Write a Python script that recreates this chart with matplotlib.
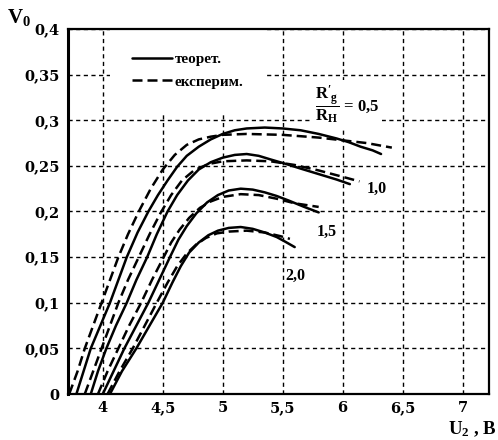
import matplotlib
matplotlib.use("Agg")
import matplotlib.pyplot as plt
from matplotlib.patches import Rectangle

plt.rcParams['mathtext.fontset'] = 'custom'
plt.rcParams['mathtext.rm'] = 'Liberation Serif'
plt.rcParams['mathtext.bf'] = 'Liberation Serif:bold'
plt.rcParams['mathtext.it'] = 'Liberation Serif:italic:bold'

SERIF = ['Liberation Serif', 'DejaVu Serif']
TICK_FONT = ['DejaVu Serif']

# Theoretical curves (solid) for R'g/RH = 0.5, 1.0, 1.5, 2.0
th_05_x = [3.78, 3.84, 3.90, 3.98, 4.06, 4.13, 4.20, 4.29, 4.38, 4.46, 4.54, 4.62, 4.70, 4.80,
           4.90, 5.00, 5.10, 5.20, 5.35, 5.50, 5.65, 5.80, 5.95, 6.05, 6.15, 6.25, 6.32]
th_05_y = [0.0, 0.025, 0.05, 0.075, 0.10, 0.125, 0.15, 0.177, 0.20, 0.218, 0.234, 0.249, 0.261, 0.271,
           0.279, 0.285, 0.289, 0.291, 0.292, 0.291, 0.289, 0.285, 0.280, 0.276, 0.271, 0.267, 0.263]

th_10_x = [3.90, 3.96, 4.03, 4.11, 4.20, 4.28, 4.37, 4.45, 4.54, 4.62, 4.71, 4.80, 4.90, 5.00,
           5.10, 5.20, 5.30, 5.40, 5.53, 5.65, 5.80, 5.95, 6.06]
th_10_y = [0.0, 0.025, 0.05, 0.075, 0.10, 0.125, 0.15, 0.175, 0.20, 0.218, 0.234, 0.246, 0.254, 0.259,
           0.262, 0.263, 0.261, 0.257, 0.252, 0.247, 0.241, 0.235, 0.230]

th_15_x = [4.00, 4.09, 4.18, 4.28, 4.38, 4.47, 4.56, 4.63, 4.70, 4.78, 4.87, 4.96, 5.05, 5.15,
           5.25, 5.35, 5.45, 5.55, 5.68, 5.80]
th_15_y = [0.0, 0.025, 0.05, 0.075, 0.10, 0.125, 0.15, 0.169, 0.184, 0.198, 0.210, 0.218, 0.223, 0.225,
           0.224, 0.221, 0.217, 0.212, 0.205, 0.199]

th_20_x = [4.06, 4.16, 4.28, 4.39, 4.50, 4.58, 4.65, 4.72, 4.80, 4.88, 4.96, 5.05, 5.15, 5.25,
           5.35, 5.45, 5.52, 5.60]
th_20_y = [0.0, 0.025, 0.05, 0.075, 0.10, 0.122, 0.140, 0.155, 0.166, 0.174, 0.179, 0.182, 0.183, 0.181,
           0.177, 0.172, 0.167, 0.161]

# Experimental curves (dashed)
ex_05_x = [3.72, 3.79, 3.85, 3.92, 3.99, 4.06, 4.13, 4.21, 4.30, 4.40, 4.50, 4.60, 4.70, 4.80,
           4.90, 5.00, 5.20, 5.50, 5.80, 6.00, 6.20, 6.41]
ex_05_y = [0.0, 0.025, 0.05, 0.075, 0.10, 0.125, 0.15, 0.175, 0.20, 0.225, 0.246, 0.262, 0.273, 0.279,
           0.282, 0.284, 0.285, 0.284, 0.281, 0.278, 0.275, 0.270]

ex_10_x = [3.85, 3.92, 3.99, 4.06, 4.13, 4.21, 4.30, 4.39, 4.48, 4.57, 4.66, 4.76, 4.88, 5.00,
           5.20, 5.40, 5.60, 5.80, 6.00, 6.14]
ex_10_y = [0.0, 0.025, 0.05, 0.075, 0.10, 0.125, 0.15, 0.175, 0.198, 0.218, 0.234, 0.245, 0.252, 0.255,
           0.256, 0.255, 0.251, 0.245, 0.238, 0.233]

ex_15_x = [3.96, 4.04, 4.13, 4.22, 4.32, 4.41, 4.50, 4.57, 4.64, 4.72, 4.81, 4.90, 5.00, 5.15,
           5.30, 5.45, 5.60, 5.80]
ex_15_y = [0.0, 0.025, 0.05, 0.075, 0.10, 0.125, 0.148, 0.166, 0.180, 0.193, 0.204, 0.211, 0.216, 0.219,
           0.218, 0.214, 0.209, 0.205]

ex_20_x = [4.04, 4.14, 4.25, 4.35, 4.45, 4.54, 4.62, 4.70, 4.78, 4.86, 4.95, 5.05, 5.20, 5.35,
           5.48, 5.56]
ex_20_y = [0.0, 0.025, 0.05, 0.075, 0.10, 0.122, 0.140, 0.154, 0.164, 0.171, 0.176, 0.178, 0.179, 0.177,
           0.173, 0.170]

x_ticks = [4, 4.5, 5, 5.5, 6, 6.5, 7]
x_tick_labels = ['4', '4,5', '5', '5,5', '6', '6,5', '7']
y_ticks = [0, 0.05, 0.1, 0.15, 0.2, 0.25, 0.3, 0.35, 0.4]
y_tick_labels = ['0', '0,05', '0,1', '0,15', '0,2', '0,25', '0,3', '0,35', '0,4']

curve_labels = ['1,0', '1,5', '2,0']
curve_label_pos = [(6.20, 0.225), (5.78, 0.178), (5.52, 0.130)]

fig = plt.figure(figsize=(4.98, 4.40), dpi=100)
ax = fig.add_axes([68 / 498, 46 / 440, 421 / 498, 365 / 440])

ax.set_xlim(3.71, 7.22)
ax.set_ylim(0, 0.4)

solid_kw = dict(color='black', lw=1.8, zorder=3, solid_capstyle='round', solid_joinstyle='round')
dash_kw = dict(color='black', lw=1.8, zorder=3, linestyle=(0, (4, 2)))

th = [(th_05_x, th_05_y), (th_10_x, th_10_y), (th_15_x, th_15_y), (th_20_x, th_20_y)]
ex = [(ex_05_x, ex_05_y), (ex_10_x, ex_10_y), (ex_15_x, ex_15_y), (ex_20_x, ex_20_y)]
for i, (x, y) in enumerate(th):
    ax.plot(x, y, label='теорет.' if i == 0 else None, **solid_kw)
for i, (x, y) in enumerate(ex):
    ax.plot(x, y, label='експерим.' if i == 0 else None, **dash_kw)

ax.set_xticks(x_ticks)
ax.set_xticklabels(x_tick_labels)
ax.set_yticks(y_ticks)
ax.set_yticklabels(y_tick_labels)
ax.tick_params(axis='y', length=0, pad=6)
ax.tick_params(axis='x', length=0, pad=5)
for lab in ax.get_xticklabels() + ax.get_yticklabels():
    lab.set_fontfamily(TICK_FONT)
    lab.set_fontweight('bold')
    lab.set_fontsize(10.5)

ax.grid(True, color='black', lw=1.0, linestyle=(0, (3, 2.5)))
ax.set_axisbelow(True)
for s in ax.spines.values():
    s.set_linewidth(1.6)
ax.spines['left'].set_linewidth(2.2)

# white area behind the legend
ax.add_patch(Rectangle((0.10, 0.77), 0.37, 0.23, transform=ax.transAxes,
                       facecolor='white', edgecolor='none', zorder=2))

leg = ax.legend(loc='upper left', bbox_to_anchor=(0.152, 0.935), frameon=False,
                borderaxespad=0, borderpad=0, handlelength=2.6, handletextpad=0.2,
                labelspacing=0.55, prop=dict(family=SERIF, weight='bold', size=11))

ax.text(5.77, 0.318, r"$\dfrac{\mathbf{R'_g}}{\mathbf{R_H}}$" + " = 0,5", fontsize=12,
        fontfamily=SERIF, fontweight='bold', va='center', ha='left', zorder=4,
        bbox=dict(facecolor='white', edgecolor='none', pad=2))

for lab, (lx, ly) in zip(curve_labels, curve_label_pos):
    ax.text(lx, ly, lab, fontsize=11.5, fontfamily=SERIF, fontweight='bold',
            va='center', ha='left', zorder=4)

fig.text(0.014, 0.985, r'$\mathbf{V_0}$', fontsize=15, va='top', ha='left')
fig.text(0.998, 0.013, r'$\mathbf{U_2}$ , B', fontsize=13.5, va='baseline', ha='right',
         fontfamily=SERIF, fontweight='bold')

fig.savefig('out.png', dpi=100)
